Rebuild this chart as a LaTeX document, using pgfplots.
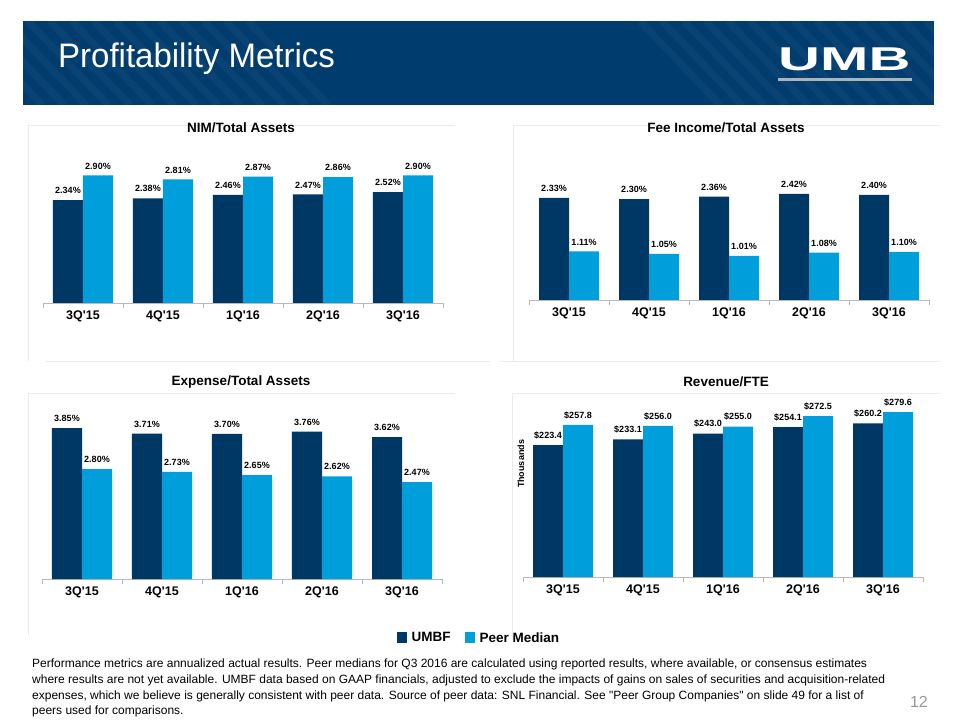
\documentclass[border=0pt]{standalone}
\usepackage{pgfplots}
\pgfplotsset{compat=1.18}
\usepackage{fontspec}
\setmainfont{Liberation Sans}
\definecolor{umbdark}{RGB}{0,56,101}
\definecolor{umblight}{RGB}{0,158,219}
\definecolor{headerblue}{RGB}{0,61,110}
\definecolor{framegray}{RGB}{235,235,235}

\pgfplotsset{
  panel/.style={
    scale only axis, width=400pt, anchor=south west,
    xmin=-0.5, xmax=4.5, ymin=0,
    axis x line*=bottom, hide y axis,
    x axis line style={-, draw=gray!55, line width=0.8pt},
    xtick={0,1,2,3,4},
    xticklabels={3Q\textquotesingle15,4Q\textquotesingle15,1Q\textquotesingle16,2Q\textquotesingle16,3Q\textquotesingle16},
    major tick length=0pt,
    minor xtick={-0.5,0.5,1.5,2.5,3.5,4.5},
    minor tick length=5pt, tick align=outside,
    minor tick style={draw=gray!55, line width=0.8pt},
    xticklabel style={font=\bfseries\fontsize{12.5}{14}\selectfont, yshift=-4pt},
    ybar=0pt, bar width=30pt,
    nodes near coords,
    every node near coord/.append style={font=\bfseries\fontsize{9}{10}\selectfont, text=black, inner sep=1pt, yshift=5pt},
    /pgf/number format/assume math mode=true,
    clip=false,
  },
  pct/.style={nodes near coords={\pgfmathprintnumber[fixed,fixed zerofill,precision=2]{\pgfplotspointmeta}\%}},
  dollar/.style={nodes near coords={\$\pgfmathprintnumber[fixed,fixed zerofill,precision=1]{\pgfplotspointmeta}}},
  darkbar/.style={fill=umbdark, draw=none},
  lightbar/.style={fill=umblight, draw=none},
}

\begin{document}
\begin{tikzpicture}
\path[use as bounding box] (0pt,0pt) rectangle (960pt,720pt);
\fill[white] (0pt,0pt) rectangle (960pt,720pt);

% header band
\fill[headerblue] (23pt,615pt) rectangle (934pt,699pt);
\begin{scope}[x=1pt,y=1pt]
\clip (23,615) rectangle (934,699);
\foreach \x in {-60,-38,...,260} {
  \draw[white, opacity=0.035, line width=7pt] (\x,699) -- (\x+80,615);
}
\foreach \x in {640,662,...,960} {
  \draw[white, opacity=0.035, line width=7pt] (\x,699) -- (\x+80,615);
}
\end{scope}
\node[anchor=base west, text=white, inner sep=0pt, font=\fontsize{34}{38}\selectfont] at (58pt,652pt) {\scalebox{0.97}[1]{Profitability Metrics}};
\node[anchor=base west, text=white, inner sep=0pt, font=\bfseries\fontsize{33}{36}\selectfont] at (778pt,649pt) {\scalebox{1.76}[1]{UMB}};
\fill[gray!60] (778pt,639pt) rectangle (912pt,641.5pt);

% faint panel frames
\draw[framegray, line width=0.8pt] (28pt,595pt) -- (455pt,595pt);
\draw[framegray, line width=0.8pt] (28pt,595pt) -- (28pt,359pt);
\draw[framegray, line width=0.8pt] (45pt,359pt) -- (490pt,359pt);
\draw[framegray, line width=0.8pt] (513pt,595pt) -- (940pt,595pt);
\draw[framegray, line width=0.8pt] (513pt,595pt) -- (513pt,359pt);
\draw[framegray, line width=0.8pt] (500pt,359pt) -- (940pt,359pt);
\draw[framegray, line width=0.8pt] (28pt,327pt) -- (455pt,327pt);
\draw[framegray, line width=0.8pt] (28pt,327pt) -- (28pt,85pt);
\draw[framegray, line width=0.8pt] (512pt,327pt) -- (940pt,327pt);
\draw[framegray, line width=0.8pt] (512pt,327pt) -- (512pt,80pt);

% panel titles
\node[font=\bfseries\fontsize{13.5}{15}\selectfont] at (241pt,592pt) {NIM/Total Assets};
\node[font=\bfseries\fontsize{13.5}{15}\selectfont] at (726pt,592pt) {Fee Income/Total Assets};
\node[font=\bfseries\fontsize{13.5}{15}\selectfont] at (241pt,338pt) {Expense/Total Assets};
\node[font=\bfseries\fontsize{13.5}{15}\selectfont] at (726pt,338pt) {Revenue/FTE};

% NIM / Total Assets
\begin{axis}[panel, pct, at={(43pt,417pt)}, ymax=3.6, height=158.4pt]
\addplot[darkbar] coordinates {(0,2.34) (1,2.38) (2,2.46) (3,2.47) (4,2.52)};
\addplot[lightbar] coordinates {(0,2.90) (1,2.81) (2,2.87) (3,2.86) (4,2.90)};
\end{axis}

% Fee Income / Total Assets
\begin{axis}[panel, pct, at={(529pt,420pt)}, ymax=3.6, height=157.7pt]
\addplot[darkbar] coordinates {(0,2.33) (1,2.30) (2,2.36) (3,2.42) (4,2.40)};
\addplot[lightbar] coordinates {(0,1.11) (1,1.05) (2,1.01) (3,1.08) (4,1.10)};
\end{axis}

% Expense / Total Assets
\begin{axis}[panel, pct, at={(42pt,141pt)}, ymax=4.3, height=168.6pt,
  legend columns=2,
  legend style={at={(1.0925,-0.35)}, anchor=center, draw=none, fill=none,
    font=\bfseries\fontsize{13.5}{14}\selectfont, inner sep=0pt,
    /tikz/every odd column/.append style={column sep=2.5pt},
    /tikz/every even column/.append style={column sep=12pt}},
  legend image code/.code={\fill[#1] (0pt,-5pt) rectangle (10.5pt,6pt);},
]
\addplot[darkbar] coordinates {(0,3.85) (1,3.71) (2,3.70) (3,3.76) (4,3.62)};
\addplot[lightbar] coordinates {(0,2.80) (1,2.73) (2,2.65) (3,2.62) (4,2.47)};
\legend{UMBF, Peer Median}
\end{axis}

% Revenue / FTE
\begin{axis}[panel, dollar, at={(523pt,143pt)}, ymax=300, height=177pt]
\addplot[darkbar] coordinates {(0,223.4) (1,233.1) (2,243.0) (3,254.1) (4,260.2)};
\addplot[lightbar] coordinates {(0,257.8) (1,256.0) (2,255.0) (3,272.5) (4,279.6)};
\end{axis}
\node[rotate=90, font=\bfseries\fontsize{9}{10}\selectfont] at (521pt,256pt) {Thousands};

% footnote
\begin{scope}[every node/.style={anchor=base west, inner sep=0pt, font=\fontsize{12}{14}\selectfont}]
\node at (32pt,53pt) {Performance metrics are annualized actual results. Peer medians for Q3 2016 are calculated using reported results, where available, or consensus estimates};
\node at (32pt,37pt) {where results are not yet available. UMBF data based on GAAP financials, adjusted to exclude the impacts of gains on sales of securities and acquisition-related};
\node at (32pt,21pt) {expenses, which we believe is generally consistent with peer data. Source of peer data: SNL Financial. See \textquotedbl Peer Group Companies\textquotedbl\ on slide 49 for a list of};
\node at (32pt,6pt) {peers used for comparisons.};
\end{scope}
\node[anchor=base east, inner sep=0pt, text=gray!80, font=\fontsize{16}{18}\selectfont] at (928pt,13pt) {12};
\end{tikzpicture}
\end{document}
